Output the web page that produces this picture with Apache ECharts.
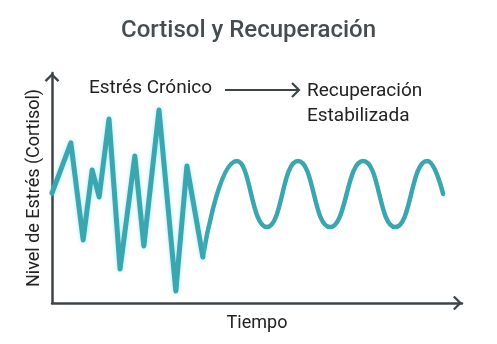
<!DOCTYPE html>
<html>
<head>
<meta charset="utf-8">
<script src="https://cdn.jsdelivr.net/npm/echarts@6/dist/echarts.min.js"></script>
<style>
html,body{margin:0;padding:0;background:#ffffff;}
#main{width:497px;height:344px;}
</style>
</head>
<body>
<div id="main"></div>
<script>
// Data (time 0-100, cortisol level 0-100)
var titleText = 'Cortisol y Recuperación';
var xName = 'Tiempo';
var yName = 'Nivel de Estrés (Cortisol)';
var phaseLabels = ['Estrés Crónico', 'Recuperación\nEstabilizada'];

var chronicTime  = [0, 4.6, 7.6, 9.8, 11.5, 13.9, 16.6, 20.2, 22.4, 26.1, 30.2, 32.9, 36.8];
var chronicLevel = [47.8, 69.6, 27.4, 57.8, 46.1, 80, 14.8, 63.9, 24.8, 83.9, 5.2, 59.6, 20];

var recoveryTime  = [36.8, 45.1, 52.4, 60, 67.8, 75.9, 83.7, 91.5, 95.4];
var recoveryLevel = [20, 61.7, 33, 61.7, 33, 61.7, 33, 61.7, 47.4];

function pairs(xs, ys) { return xs.map(function (x, i) { return [x, ys[i]]; }); }

var chevron = 'path://M0,9 L9,0 L18,9 L16,11 L9,4 L2,11 Z';
var axisColor = '#3d4448';
var lineColor = '#3ba5b0';

var chart = echarts.init(document.getElementById('main'), null, {renderer: 'canvas'});
chart.setOption({
  backgroundColor: '#ffffff',
  animation: false,
  title: {
    text: titleText,
    left: 'center',
    top: 14,
    textStyle: {fontFamily: 'Roboto', fontWeight: 500, fontSize: 24, color: '#464d51'}
  },
  grid: {left: 52, right: 35, top: 73, bottom: 41, containLabel: false, outerBoundsMode: 'none'},
  xAxis: {
    type: 'value', min: 0, max: 100,
    name: xName, nameLocation: 'middle', nameGap: 11,
    nameTextStyle: {fontFamily: 'Roboto', fontSize: 18, color: '#222'},
    axisLine: {show: true, onZero: false, symbol: ['none', chevron], symbolSize: [16, 9], symbolOffset: [0, -4.5],
      lineStyle: {color: axisColor, width: 2.5}},
    axisTick: {show: false}, axisLabel: {show: false}, splitLine: {show: false}
  },
  yAxis: {
    type: 'value', min: 0, max: 100,
    name: yName, nameLocation: 'middle', nameGap: 9,
    nameTextStyle: {fontFamily: 'Roboto', fontSize: 18, color: '#222'},
    axisLine: {show: true, onZero: false, symbol: ['none', chevron], symbolSize: [16, 9], symbolOffset: [0, -4.5],
      lineStyle: {color: axisColor, width: 2.5}},
    axisTick: {show: false}, axisLabel: {show: false}, splitLine: {show: false}
  },
  series: [
    {
      type: 'line', data: pairs(chronicTime, chronicLevel), showSymbol: false, smooth: false,
      lineStyle: {color: lineColor, width: 5, join: 'round', cap: 'round', shadowColor: 'rgba(90,220,240,0.55)', shadowBlur: 4},
      z: 3
    },
    {
      type: 'line', data: pairs(recoveryTime, recoveryLevel), showSymbol: false, smooth: 0.5,
      lineStyle: {color: lineColor, width: 4.5, cap: 'round'}, z: 2
    }
  ],
  graphic: [
    {type: 'text', left: 89, top: 79, style: {text: phaseLabels[0], font: '19px Roboto', fill: '#222'}},
    {type: 'text', left: 307, top: 79, style: {text: phaseLabels[1], font: '19px Roboto', fill: '#222', lineHeight: 25}},
    {type: 'polyline', shape: {points: [[225, 90], [299, 90]]}, style: {stroke: '#3d4448', lineWidth: 2}},
    {type: 'polyline', shape: {points: [[292, 83], [299, 90], [292, 97]]}, style: {stroke: '#3d4448', lineWidth: 2.2, fill: null}}
  ]
});
</script>
</body>
</html>
